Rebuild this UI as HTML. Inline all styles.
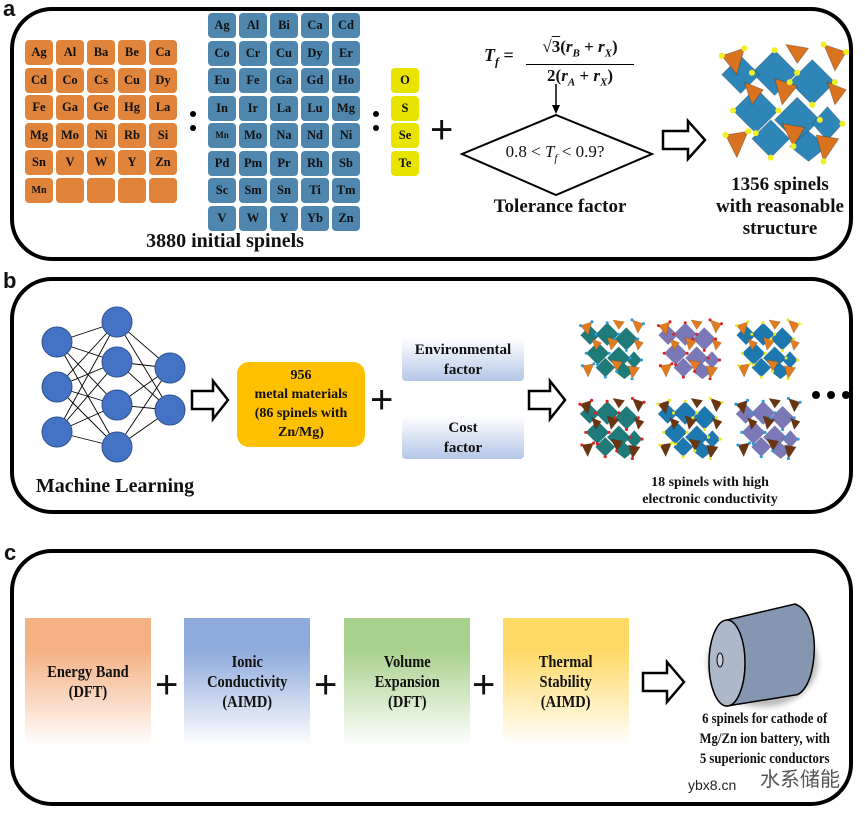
<!DOCTYPE html>
<html><head><meta charset="utf-8"><style>
*{margin:0;padding:0;box-sizing:border-box}
body{width:865px;height:813px;background:#fff;position:relative;overflow:hidden;font-family:"Liberation Serif",serif;font-weight:bold;color:#111}
.a{position:absolute}
.panel{position:absolute;border:4px solid #000;border-radius:42px}
.lbl{position:absolute;font-family:"Liberation Sans",sans-serif;font-weight:bold;font-size:22px}
.t{position:absolute;width:28px;height:25px;border-radius:4px;font-size:12.5px;text-align:center;line-height:25px}
.o{background:#E0843C}.b{background:#4F86AE}.y{background:#E8E400}
.c{text-align:center;position:absolute}
.plus{position:absolute;font-family:"Liberation Sans",sans-serif;font-weight:normal;font-size:40px;line-height:40px}
.col{position:absolute;width:6px}
.col i{display:block;width:6px;height:6px;border-radius:50%;background:#000;margin-bottom:8px}
.fb{position:absolute;border-radius:4px;background:linear-gradient(#fff,#B4C7E7);font-size:15px;text-align:center;display:flex;align-items:center;justify-content:center;line-height:20px}
.cb{position:absolute;width:126px;height:128px;font-size:17px;text-align:center;display:flex;align-items:center;justify-content:center;line-height:20px;font-family:"Liberation Serif",serif}
.cb span{display:inline-block;transform:scaleX(.85)}
</style></head><body>
<svg width="0" height="0" style="position:absolute">
<defs>
<symbol id="cr" viewBox="0 0 70 65">
<g style="fill:var(--oct)" stroke="rgba(0,0,0,.2)" stroke-width=".5">
<polygon points="30,5 42,17 30,29 18,17"/><polygon points="50,10 62,22 50,34 38,22"/>
<polygon points="20,25 32,37 20,49 8,37"/><polygon points="42,30 54,42 42,54 30,42"/>
<polygon points="28,42 38,52 28,62 18,52"/><polygon points="58,35 66,44 58,53 50,44"/>
<polygon points="12,8 22,18 12,28 2,18"/><polygon points="48,48 58,56 48,64 38,56"/>
</g>
<g style="fill:var(--tet)" stroke="rgba(0,0,0,.25)" stroke-width=".5">
<polygon points="2,8 14,4 10,18"/><polygon points="56,2 68,6 62,16"/><polygon points="30,20 42,24 34,34"/>
<polygon points="4,50 16,48 10,62"/><polygon points="52,50 64,52 56,64"/><polygon points="34,44 46,46 40,56"/>
<polygon points="14,22 24,26 18,34"/><polygon points="58,22 68,26 62,34"/>
<polygon points="36,2 48,4 42,12"/>
</g>
<g style="fill:var(--dot)">
<circle cx="2" cy="8" r="1.6"/><circle cx="14" cy="4" r="1.6"/><circle cx="30" cy="5" r="1.6"/><circle cx="42" cy="17" r="1.6"/>
<circle cx="56" cy="2" r="1.6"/><circle cx="68" cy="6" r="1.6"/><circle cx="18" cy="17" r="1.6"/><circle cx="50" cy="34" r="1.6"/>
<circle cx="8" cy="37" r="1.6"/><circle cx="32" cy="37" r="1.6"/><circle cx="54" cy="42" r="1.6"/><circle cx="66" cy="44" r="1.6"/>
<circle cx="4" cy="50" r="1.6"/><circle cx="16" cy="48" r="1.6"/><circle cx="28" cy="62" r="1.6"/><circle cx="56" cy="64" r="1.6"/>
<circle cx="40" cy="56" r="1.6"/><circle cx="62" cy="22" r="1.6"/><circle cx="20" cy="49" r="1.6"/><circle cx="38" cy="22" r="1.6"/>
</g>
</symbol>
</defs>
</svg>

<!-- Panel a -->
<div class="panel" style="left:10px;top:7px;width:843px;height:254px"></div>
<div class="lbl" style="left:3px;top:-4px">a</div>

<div class="t o" style="left:25px;top:40px">Ag</div><div class="t o" style="left:56px;top:40px">Al</div><div class="t o" style="left:87px;top:40px">Ba</div><div class="t o" style="left:118px;top:40px">Be</div><div class="t o" style="left:149px;top:40px">Ca</div>
<div class="t o" style="left:25px;top:68px">Cd</div><div class="t o" style="left:56px;top:68px">Co</div><div class="t o" style="left:87px;top:68px">Cs</div><div class="t o" style="left:118px;top:68px">Cu</div><div class="t o" style="left:149px;top:68px">Dy</div>
<div class="t o" style="left:25px;top:95px">Fe</div><div class="t o" style="left:56px;top:95px">Ga</div><div class="t o" style="left:87px;top:95px">Ge</div><div class="t o" style="left:118px;top:95px">Hg</div><div class="t o" style="left:149px;top:95px">La</div>
<div class="t o" style="left:25px;top:123px">Mg</div><div class="t o" style="left:56px;top:123px">Mo</div><div class="t o" style="left:87px;top:123px">Ni</div><div class="t o" style="left:118px;top:123px">Rb</div><div class="t o" style="left:149px;top:123px">Si</div>
<div class="t o" style="left:25px;top:150px">Sn</div><div class="t o" style="left:56px;top:150px">V</div><div class="t o" style="left:87px;top:150px">W</div><div class="t o" style="left:118px;top:150px">Y</div><div class="t o" style="left:149px;top:150px">Zn</div>
<div class="t o" style="left:25px;top:178px;font-size:10px">Mn</div><div class="t o" style="left:56px;top:178px"></div><div class="t o" style="left:87px;top:178px"></div><div class="t o" style="left:118px;top:178px"></div><div class="t o" style="left:149px;top:178px"></div>

<div class="col" style="left:190px;top:111px"><i></i><i></i></div>

<div class="t b" style="left:208px;top:13px">Ag</div><div class="t b" style="left:239px;top:13px">Al</div><div class="t b" style="left:270px;top:13px">Bi</div><div class="t b" style="left:301px;top:13px">Ca</div><div class="t b" style="left:332px;top:13px">Cd</div>
<div class="t b" style="left:208px;top:41px">Co</div><div class="t b" style="left:239px;top:41px">Cr</div><div class="t b" style="left:270px;top:41px">Cu</div><div class="t b" style="left:301px;top:41px">Dy</div><div class="t b" style="left:332px;top:41px">Er</div>
<div class="t b" style="left:208px;top:68px">Eu</div><div class="t b" style="left:239px;top:68px">Fe</div><div class="t b" style="left:270px;top:68px">Ga</div><div class="t b" style="left:301px;top:68px">Gd</div><div class="t b" style="left:332px;top:68px">Ho</div>
<div class="t b" style="left:208px;top:96px">In</div><div class="t b" style="left:239px;top:96px">Ir</div><div class="t b" style="left:270px;top:96px">La</div><div class="t b" style="left:301px;top:96px">Lu</div><div class="t b" style="left:332px;top:96px">Mg</div>
<div class="t b" style="left:208px;top:123px;font-size:9px">Mn</div><div class="t b" style="left:239px;top:123px">Mo</div><div class="t b" style="left:270px;top:123px">Na</div><div class="t b" style="left:301px;top:123px">Nd</div><div class="t b" style="left:332px;top:123px">Ni</div>
<div class="t b" style="left:208px;top:151px">Pd</div><div class="t b" style="left:239px;top:151px">Pm</div><div class="t b" style="left:270px;top:151px">Pr</div><div class="t b" style="left:301px;top:151px">Rh</div><div class="t b" style="left:332px;top:151px">Sb</div>
<div class="t b" style="left:208px;top:178px">Sc</div><div class="t b" style="left:239px;top:178px">Sm</div><div class="t b" style="left:270px;top:178px">Sn</div><div class="t b" style="left:301px;top:178px">Ti</div><div class="t b" style="left:332px;top:178px">Tm</div>
<div class="t b" style="left:208px;top:206px">V</div><div class="t b" style="left:239px;top:206px">W</div><div class="t b" style="left:270px;top:206px">Y</div><div class="t b" style="left:301px;top:206px">Yb</div><div class="t b" style="left:332px;top:206px">Zn</div>

<div class="col" style="left:373px;top:111px"><i></i><i></i></div>

<div class="t y" style="left:391px;top:68px">O</div>
<div class="t y" style="left:391px;top:96px">S</div>
<div class="t y" style="left:391px;top:123px">Se</div>
<div class="t y" style="left:391px;top:151px">Te</div>

<div class="c" style="left:100px;top:230px;width:250px;font-size:20px">3880 initial spinels</div>

<div class="plus" style="left:430px;top:110px">+</div>

<div class="a" style="left:484px;top:45px;font-size:18px;font-style:italic">T<sub style="font-size:12px">f</sub> <span style="font-style:normal">=</span></div>
<div class="a" style="left:526px;top:36px;width:108px;text-align:center;font-size:17px;line-height:21px">
<div style="border-bottom:1.5px solid #000">√<span style="text-decoration:overline">3</span>(<i>r<sub style="font-size:11px">B</sub></i> + <i>r<sub style="font-size:11px">X</sub></i>)</div>
<div>2(<i>r<sub style="font-size:11px">A</sub></i> + <i>r<sub style="font-size:11px">X</sub></i>)</div>
</div>
<svg class="a" style="left:0;top:0" width="865" height="813">
<line x1="556" y1="84" x2="556" y2="108" stroke="#000" stroke-width="1.5"/>
<polygon points="552,105 560,105 556,114" fill="#000"/>
<polygon points="556,115 652,154 556,195 462,154" fill="#fff" stroke="#000" stroke-width="2"/>
<polygon points="663,131 688,131 688,121 705,140 688,159 688,149 663,149" fill="#fff" stroke="#000" stroke-width="2.5"/>
<polygon points="192,391 213,391 213,381 228,400 213,419 213,409 192,409" fill="#fff" stroke="#000" stroke-width="2.5"/>
<polygon points="529,391 550,391 550,381 565,400 550,419 550,409 529,409" fill="#fff" stroke="#000" stroke-width="2.5"/>
<polygon points="643,673 667,673 667,662 684,682 667,702 667,691 643,691" fill="#fff" stroke="#000" stroke-width="2.5"/>
<use href="#cr" x="718" y="38" width="132" height="128" style="--oct:#2E86B8;--tet:#D9731F;--dot:#F0F020"/>
<g stroke="#000" stroke-width="0.9">
<line x1="57" y1="342" x2="117" y2="322"/><line x1="57" y1="342" x2="117" y2="362"/><line x1="57" y1="342" x2="117" y2="405"/><line x1="57" y1="342" x2="117" y2="447"/>
<line x1="57" y1="387" x2="117" y2="322"/><line x1="57" y1="387" x2="117" y2="362"/><line x1="57" y1="387" x2="117" y2="405"/><line x1="57" y1="387" x2="117" y2="447"/>
<line x1="57" y1="432" x2="117" y2="322"/><line x1="57" y1="432" x2="117" y2="362"/><line x1="57" y1="432" x2="117" y2="405"/><line x1="57" y1="432" x2="117" y2="447"/>
<line x1="117" y1="322" x2="170" y2="368"/><line x1="117" y1="322" x2="170" y2="410"/>
<line x1="117" y1="362" x2="170" y2="368"/><line x1="117" y1="362" x2="170" y2="410"/>
<line x1="117" y1="405" x2="170" y2="368"/><line x1="117" y1="405" x2="170" y2="410"/>
<line x1="117" y1="447" x2="170" y2="368"/><line x1="117" y1="447" x2="170" y2="410"/>
</g>
<g fill="#4472C4" stroke="#2F528F" stroke-width="1">
<circle cx="57" cy="342" r="15"/><circle cx="57" cy="387" r="15"/><circle cx="57" cy="432" r="15"/>
<circle cx="117" cy="322" r="15"/><circle cx="117" cy="362" r="15"/><circle cx="117" cy="405" r="15"/><circle cx="117" cy="447" r="15"/>
<circle cx="170" cy="368" r="15"/><circle cx="170" cy="410" r="15"/>
</g>
<use href="#cr" x="578" y="318" width="68" height="62" style="--oct:#1F7A7A;--tet:#E07B20;--dot:#2A9AD8"/>
<use href="#cr" x="656" y="318" width="68" height="62" style="--oct:#7B78B8;--tet:#E07B20;--dot:#E02020"/>
<use href="#cr" x="734" y="318" width="68" height="62" style="--oct:#1E78B0;--tet:#E07B20;--dot:#E8E820"/>
<use href="#cr" x="578" y="396" width="68" height="64" style="--oct:#1F7A7A;--tet:#6B3510;--dot:#E02020"/>
<use href="#cr" x="656" y="396" width="68" height="64" style="--oct:#1E78B0;--tet:#6B3510;--dot:#E8E820"/>
<use href="#cr" x="734" y="396" width="68" height="64" style="--oct:#7B78B8;--tet:#6B3510;--dot:#2A9AD8"/>
<circle cx="816" cy="395" r="4" fill="#000"/><circle cx="831" cy="395" r="4" fill="#000"/><circle cx="846" cy="395" r="4" fill="#000"/>
<defs><filter id="sh"><feGaussianBlur stdDeviation="3"/></filter></defs>
<ellipse cx="763" cy="662" rx="55" ry="45" fill="#777" opacity=".5" filter="url(#sh)"/>
<path d="M727,620 L795,604 C812,610 818,640 812,670 C808,688 800,695 795,695 L727,706 Z" fill="#8496B0" stroke="#000" stroke-width="1.5"/>
<ellipse cx="727" cy="663" rx="18" ry="43" fill="#ADB9CA" stroke="#000" stroke-width="1.5"/>
<rect x="720" y="653" width="6" height="14" fill="#ADB9CA"/>
<ellipse cx="720" cy="660" rx="3" ry="7" fill="#C8D0DC" stroke="#000" stroke-width="1"/>
</svg>

<div class="c" style="left:445px;top:142px;width:220px;font-size:17px;font-weight:normal">0.8 &lt; <i>T<sub style="font-size:11px">f</sub></i> &lt; 0.9?</div>
<div class="c" style="left:470px;top:196px;width:180px;font-size:19px">Tolerance factor</div>
<div class="c" style="left:700px;top:174px;width:160px;font-size:19px;line-height:22px">1356 spinels<br>with reasonable<br>structure</div>

<!-- Panel b -->
<div class="panel" style="left:10px;top:277px;width:843px;height:237px"></div>
<div class="lbl" style="left:3px;top:268px">b</div>
<div class="c" style="left:20px;top:475px;width:190px;font-size:20px">Machine Learning</div>
<div class="a" style="left:237px;top:362px;width:128px;height:85px;background:#FFC000;border-radius:12px;text-align:center;font-size:14px;line-height:19px;padding-top:4px">956<br>metal materials<br>(86 spinels with<br>Zn/Mg)</div>
<div class="plus" style="left:370px;top:380px">+</div>
<div class="fb" style="left:402px;top:338px;width:122px;height:43px">Environmental<br>factor</div>
<div class="fb" style="left:402px;top:416px;width:122px;height:43px">Cost<br>factor</div>
<div class="c" style="left:610px;top:474px;width:200px;font-size:14px;line-height:17px">18 spinels with high<br>electronic conductivity</div>

<!-- Panel c -->
<div class="panel" style="left:10px;top:549px;width:843px;height:257px"></div>
<div class="lbl" style="left:4px;top:540px">c</div>
<div class="cb" style="left:25px;top:618px;background:linear-gradient(#F4B183 0%,#F4B183 25%,#FCE4D6 75%,#fff)"><span>Energy Band<br>(DFT)</span></div>
<div class="plus" style="left:155px;top:665px">+</div>
<div class="cb" style="left:184px;top:618px;background:linear-gradient(#8FAADC 0%,#8FAADC 25%,#DAE3F3 75%,#fff)"><span>Ionic<br>Conductivity<br>(AIMD)</span></div>
<div class="plus" style="left:314px;top:665px">+</div>
<div class="cb" style="left:344px;top:618px;background:linear-gradient(#A9D18E 0%,#A9D18E 25%,#E2F0D9 75%,#fff)"><span>Volume<br>Expansion<br>(DFT)</span></div>
<div class="plus" style="left:472px;top:665px">+</div>
<div class="cb" style="left:503px;top:618px;background:linear-gradient(#FFD966 0%,#FFD966 25%,#FFF2CC 75%,#fff)"><span>Thermal<br>Stability<br>(AIMD)</span></div>
<div class="c" style="left:665px;top:709px;width:200px;font-size:15px;line-height:20px"><span style="display:inline-block;transform:scaleX(.85)">6 spinels for cathode of<br>Mg/Zn ion battery, with<br>5 superionic conductors</span></div>
<div class="a" style="left:688px;top:777px;font-family:'Liberation Sans',sans-serif;font-weight:normal;font-size:14px;color:#222;background:rgba(255,255,255,.6)">ybx8.cn</div>
<div class="a" style="left:760px;top:763px;font-family:'Liberation Sans','Noto Sans CJK SC',sans-serif;font-weight:normal;font-size:20px;color:#555">水系储能</div>
</body></html>
